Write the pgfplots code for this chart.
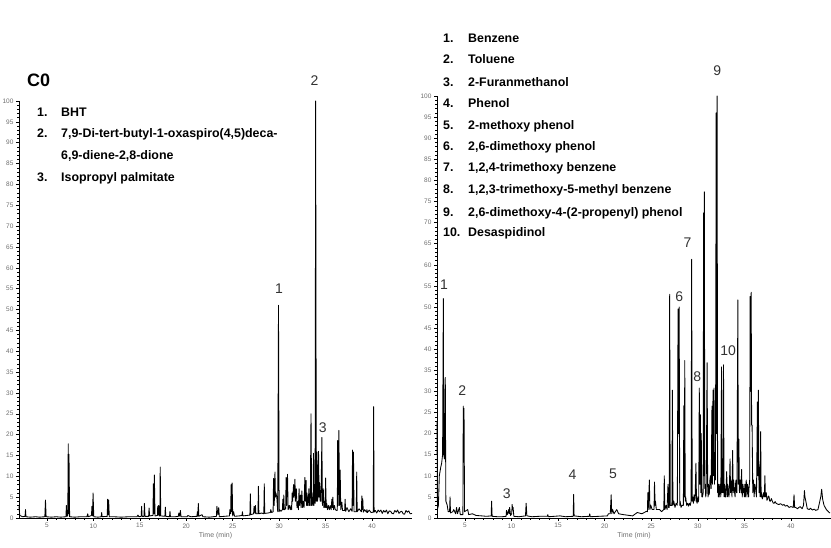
\documentclass[border=0pt]{standalone}
\usepackage{fontspec}
\setmainfont{Liberation Sans}
\usepackage{pgfplots}
\pgfplotsset{compat=1.18}
\definecolor{tickgray}{RGB}{110,110,110}
\definecolor{pklab}{RGB}{50,50,50}
\tikzset{peak/.style={font=\fontsize{14}{14}\selectfont, text=pklab}}
\pgfplotsset{chrom/.style={
  scale only axis, axis lines=left, axis line style={-, black, line width=0.6pt},
  xmin=2, xmax=44.3, ymin=0, ymax=100,
  xtick={5,10,...,40}, ytick={0,5,...,100},
  minor x tick num=4, minor y tick num=4,
  tick align=outside, major tick length=3pt, minor tick length=1.6pt,
  every tick/.style={black, line width=0.4pt},
  /pgf/number format/assume math mode=true,
  ticklabel style={font=\fontsize{6.5}{6.5}\selectfont, text=tickgray},
  xticklabel style={yshift=1pt},
  yticklabel style={xshift=1pt},
  xlabel={Time (min)},
  xlabel style={font=\fontsize{7}{7}\selectfont, text=tickgray, yshift=3pt},
  clip=false, no markers,
}}
\tikzset{chr/.style={black, line width=0.85pt, line join=round, mark=none}}
\begin{document}
\begin{tikzpicture}[x=1pt,y=1pt]
\useasboundingbox (0,0) rectangle (831,548);
% ---------------- left panel (C0)
\begin{axis}[chrom, at={(19pt,30pt)}, anchor=south west, width=393pt, height=417pt]
\addplot[chr] coordinates {(2.0,2.8)(2.08,0.6)(2.2,0.5)(2.4,0.3)(2.65,0.4)(2.7,2.0)(2.75,0.3)(3.2,0.2)(3.8,0.3)(4.2,0.2)(4.78,0.3)(4.85,4.3)(4.92,0.3)(5.5,0.2)(6.0,0.3)(6.5,0.2)(7.05,0.3)(7.1,3.0)(7.15,0.4)(7.25,0.5)(7.3,17.8)(7.35,1.0)(7.38,15.3)(7.45,0.3)(8.0,0.2)(8.6,0.3)(9.3,0.3)(9.4,1.0)(9.45,0.3)(9.8,0.6)(9.85,2.8)(9.92,0.5)(9.97,6.0)(10.05,0.3)(10.5,0.2)(10.85,0.3)(10.9,1.3)(10.95,0.3)(11.5,0.4)(11.54,4.5)(11.6,0.8)(11.65,4.3)(11.72,0.3)(12.2,0.3)(13.0,0.2)(13.8,0.3)(14.7,0.3)(14.8,0.7)(14.9,0.3)(15.15,0.4)(15.2,2.8)(15.25,0.4)(15.45,0.4)(15.5,3.5)(15.56,0.4)(15.95,0.4)(16.0,2.4)(16.06,0.5)(16.42,0.6)(16.46,8.2)(16.52,1.0)(16.57,10.3)(16.64,0.5)(16.9,0.6)(16.93,2.8)(16.98,0.8)(17.03,3.0)(17.08,0.5)(17.16,0.5)(17.2,12.2)(17.26,0.5)(17.7,0.4)(17.75,2.6)(17.8,0.4)(18.2,0.3)(18.25,1.6)(18.3,0.3)(18.8,0.3)(19.15,0.4)(19.2,1.2)(19.3,0.4)(19.37,1.8)(19.44,0.3)(20.1,0.3)(20.16,0.6)(20.5,0.3)(21.15,0.4)(21.2,1.5)(21.25,0.4)(21.3,3.5)(21.36,0.4)(21.7,0.8)(21.8,0.3)(22.5,0.2)(23.25,0.4)(23.3,2.8)(23.4,0.8)(23.5,2.5)(23.56,0.3)(24.1,0.4)(24.65,0.5)(24.7,2.0)(24.78,1.0)(24.83,8.0)(24.88,1.5)(24.94,8.4)(25.0,0.5)(25.1,1.5)(25.2,0.4)(25.7,0.5)(26.0,0.6)(26.05,1.5)(26.1,0.5)(26.5,0.6)(26.85,0.7)(26.9,5.8)(26.95,0.8)(27.25,1.0)(27.3,2.8)(27.4,1.2)(27.45,3.0)(27.5,1.0)(27.72,1.0)(27.77,7.6)(27.82,1.0)(28.1,1.2)(28.35,1.0)(28.4,8.2)(28.45,1.1)(28.8,1.2)(29.05,1.3)(29.1,2.0)(29.2,1.3)(29.35,1.5)(29.4,9.5)(29.47,3)(29.55,11.0)(29.6,5)(29.65,6.0)(29.75,5.0)(29.85,1.5)(29.93,51.0)(30.0,1.5)(30.04,2.0)(30.2,1.6)(30.35,2.0)(30.4,4.5)(30.45,2)(30.5,5.5)(30.55,2.0)(30.7,2.2)(30.75,9.7)(30.8,3)(30.9,10.5)(30.97,2.0)(31.1,3.0)(31.2,2.0)(31.3,3)(31.35,2)(31.4,6.0)(31.45,4)(31.5,6)(31.55,8.0)(31.6,5)(31.65,7)(31.7,9.3)(31.75,4)(31.8,6)(31.85,7.0)(31.92,2.5)(31.96,4)(32.0,3.0)(32.08,2)(32.11,5)(32.15,7.0)(32.2,3)(32.25,5)(32.3,5.5)(32.37,2.5)(32.41,5)(32.45,6.5)(32.52,2.5)(32.56,4)(32.6,4.0)(32.68,2.5)(32.72,6)(32.77,9.7)(32.83,4)(32.9,9.0)(32.95,3)(33.0,6.0)(33.04,3)(33.08,5)(33.13,3)(33.2,7.0)(33.28,3)(33.35,3)(33.43,25.0)(33.5,3)(33.55,5)(33.6,4.0)(33.65,3)(33.7,15.5)(33.75,3)(33.8,8.0)(33.87,3.5)(33.93,100)(34.0,4)(34.07,15.8)(34.12,4)(34.18,5)(34.24,16.0)(34.3,5)(34.35,8.5)(34.42,4)(34.46,6)(34.5,4)(34.6,19.3)(34.66,3)(34.75,7.0)(34.82,2.5)(34.88,4)(34.95,2.5)(35.0,9.6)(35.07,2.5)(35.12,3.5)(35.2,2)(35.3,3.0)(35.4,2)(35.5,3)(35.6,2)(35.67,4.5)(35.72,2.5)(35.78,5.0)(35.85,2)(35.95,3)(36.04,2.0)(36.2,1.8)(36.26,1.8)(36.3,18.6)(36.36,3)(36.43,21.0)(36.5,3)(36.57,11.5)(36.63,2)(36.75,3.8)(36.82,1.8)(37.05,1.8)(37.1,4.5)(37.16,1.6)(37.3,2.5)(37.5,1.5)(37.7,2.2)(37.85,1.6)(37.9,16.3)(37.95,3)(38.0,15.8)(38.06,1.5)(38.3,1.5)(38.35,11.0)(38.4,1.5)(38.6,2.2)(38.85,1.5)(38.9,5.3)(38.95,2)(39.0,4.6)(39.06,1.4)(39.2,2)(39.4,1.4)(39.45,2.0)(39.5,1.3)(39.7,1.9)(39.9,1.3)(40.13,1.4)(40.17,26.7)(40.22,1.4)(40.35,1.8)(40.5,1.2)(40.65,1.9)(40.8,1.5)(40.95,1.9)(41.1,1.1)(41.25,1.8)(41.4,1.4)(41.55,1.9)(41.7,1.0)(41.85,1.7)(42.0,1.6)(42.15,1.1)(42.3,1.0)(42.45,1.8)(42.6,1.4)(42.75,1.9)(42.9,1.1)(43.05,1.5)(43.2,1.6)(43.35,1.0)(43.5,0.9)(43.65,1.8)(43.8,1.4)(43.95,1.7)(44.1,1.0)(44.3,1.1)};
\node[peak] at (axis cs:30.0,55) {1};
\node[peak] at (axis cs:33.8,104.8) {2};
\node[peak] at (axis cs:34.7,21.6) {3};
\end{axis}
% ---------------- right panel
\begin{axis}[chrom, at={(437pt,30pt)}, anchor=south west, width=394pt, height=422pt]
\addplot[chr] coordinates {(2.0,22.8)(2.05,2.0)(2.15,3)(2.25,10)(2.4,12)(2.5,13)(2.6,15)(2.68,52)(2.73,15)(2.8,14)(2.89,33.3)(2.95,4)(3.1,3)(3.2,1.5)(3.35,1.5)(3.4,5)(3.45,1.2)(3.7,1.5)(3.8,2)(4.0,1)(4.1,2.5)(4.2,1)(4.4,2.5)(4.5,0.8)(4.78,0.8)(4.82,26.5)(4.87,15)(4.9,26)(4.96,1.5)(5.3,2)(5.4,0.8)(5.8,1)(6.2,0.6)(6.8,0.5)(7.3,0.4)(7.82,0.5)(7.86,4)(7.92,0.4)(8.5,0.3)(9.0,0.3)(9.42,0.4)(9.46,1.8)(9.55,0.8)(9.7,2)(9.75,1)(9.8,2.5)(9.9,0.6)(10.02,1)(10.07,3.2)(10.12,2)(10.17,2.5)(10.25,0.4)(10.8,0.3)(11.5,0.5)(11.57,3.5)(11.65,0.5)(12.2,0.3)(13.0,0.4)(13.85,0.4)(13.9,0.8)(13.95,0.3)(14.6,0.4)(15.2,0.5)(15.8,0.3)(16.62,0.4)(16.67,5.6)(16.72,0.5)(17.5,0.3)(18.35,0.4)(18.4,1)(18.45,0.3)(19.4,0.4)(20.3,0.5)(20.4,1)(20.6,1)(20.7,5.5)(20.76,1)(20.85,2)(21.0,1)(21.3,2)(21.5,1)(22.0,0.8)(23.0,0.5)(23.5,1.3)(24.0,1)(24.5,1.6)(24.6,1.5)(24.63,6)(24.68,2)(24.8,9)(24.86,2)(24.95,3)(25.1,2)(25.3,2)(25.35,8.5)(25.42,3)(25.45,4)(25.55,2)(25.9,2)(26.1,1.5)(26.35,2)(26.4,10)(26.46,2)(26.6,3)(26.7,2)(26.8,8)(26.86,2.5)(26.93,2.5)(26.98,53)(27.04,3)(27.13,3)(27.22,3)(27.27,30.3)(27.33,3)(27.42,4)(27.55,2.5)(27.67,3.5)(27.8,3)(27.88,49.5)(27.93,20)(28.0,50)(28.06,3)(28.1,4)(28.2,2.5)(28.3,3)(28.45,3)(28.5,26.6)(28.55,5)(28.6,37.3)(28.65,4)(28.7,5)(28.8,3)(28.9,3.5)(29.0,2.8)(29.1,3.5)(29.2,3)(29.28,4)(29.34,61.3)(29.4,4)(29.45,5)(29.52,3.5)(29.6,5.5)(29.7,4)(29.8,13)(29.86,4)(29.93,3.5)(30.0,5)(30.05,3.8)(30.1,4.5)(30.16,30.8)(30.22,8)(30.27,24.5)(30.32,6)(30.37,20)(30.44,5)(30.5,5)(30.58,6)(30.62,72.3)(30.66,10)(30.7,77.3)(30.75,7)(30.8,8)(30.85,5)(30.9,6)(31.0,36.8)(31.06,7)(31.1,5)(31.15,8)(31.2,5.5)(31.25,6)(31.3,9)(31.35,10)(31.43,7)(31.52,26.5)(31.57,8)(31.63,30.3)(31.68,10)(31.74,30.8)(31.79,8)(31.84,15)(31.9,9)(31.97,96)(32.02,20)(32.07,100)(32.13,6)(32.17,8)(32.2,5)(32.25,8)(32.3,5)(32.35,7)(32.4,8)(32.47,5)(32.55,35.8)(32.6,6)(32.66,10)(32.71,6)(32.76,36.3)(32.82,5)(32.86,8)(32.9,7)(32.95,5)(33.0,5)(33.05,8)(33.1,11)(33.17,5)(33.21,8)(33.25,7)(33.3,5.5)(33.35,5)(33.4,8)(33.46,14)(33.52,6)(33.56,9)(33.6,8)(33.67,5)(33.74,16)(33.8,6)(33.85,9)(33.9,7)(33.95,6)(34.0,5)(34.05,8)(34.1,9)(34.15,6)(34.2,6)(34.3,51.7)(34.35,8)(34.41,18.7)(34.47,6)(34.52,9)(34.58,9)(34.64,6)(34.7,11.5)(34.77,5)(34.85,8)(34.9,6)(34.95,7)(35.0,5)(35.05,8)(35.1,5)(35.2,9)(35.28,5)(35.33,8)(35.4,7)(35.45,5)(35.5,7)(35.57,9)(35.62,52.5)(35.67,30)(35.73,53.5)(35.78,22)(35.83,22)(35.9,6)(35.97,9)(36.05,5)(36.12,8)(36.2,7)(36.3,5)(36.4,27.5)(36.45,10)(36.5,30.3)(36.57,6)(36.64,12)(36.69,5)(36.75,20.5)(36.8,5)(36.85,6)(36.92,4.5)(37.0,5)(37.07,6)(37.15,5)(37.2,10)(37.26,5)(37.35,6)(37.42,4.2)(37.5,4.5)(37.58,5.2)(37.65,5)(37.72,4)(37.8,4)(37.9,4.6)(38.0,4)(38.1,3.5)(38.2,3.5)(38.3,3.9)(38.4,3.5)(38.55,3.3)(38.7,3.2)(38.9,3.4)(39.1,3)(39.25,3.2)(39.4,2.8)(39.6,3)(39.8,2.5)(40.0,2.7)(40.25,2.5)(40.33,5.5)(40.4,2.5)(40.5,2.5)(40.7,2.2)(40.85,2.5)(41.0,2.7)(41.2,2.2)(41.35,3)(41.45,6.5)(41.5,5)(41.6,4)(41.75,2.2)(41.95,2)(42.1,2.3)(42.3,1.9)(42.5,2.1)(42.66,1.8)(42.9,2)(43.0,3)(43.2,5)(43.3,6.8)(43.4,4.5)(43.55,3)(43.8,2)(44.1,1.3)(44.2,1.2)};
\node[peak] at (axis cs:2.75,55.2) {1};
\node[peak] at (axis cs:4.7,30.3) {2};
\node[peak] at (axis cs:9.49,5.7) {3};
\node[peak] at (axis cs:16.56,10.2) {4};
\node[peak] at (axis cs:20.9,10.4) {5};
\node[peak] at (axis cs:28.0,52.4) {6};
\node[peak] at (axis cs:28.9,65.2) {7};
\node[peak] at (axis cs:29.95,33.6) {8};
\node[peak] at (axis cs:32.09,106) {9};
\node[peak] at (axis cs:33.26,39.6) {10};
\end{axis}
% ---------------- texts
\node[anchor=base west, inner sep=0, font=\fontsize{18}{18}\selectfont\bfseries] at (27,461) {C0};
\begin{scope}[every node/.style={anchor=base west, inner sep=0, font=\fontsize{12.4}{12.4}\selectfont\bfseries}]
\node at (37,431) {1.}; \node at (61,431) {BHT};
\node at (37,410) {2.}; \node at (61,410) {7,9-Di-tert-butyl-1-oxaspiro(4,5)deca-};
\node at (61,388) {6,9-diene-2,8-dione};
\node at (37,366) {3.}; \node at (61,366) {Isopropyl palmitate};
\node at (443,505) {1.}; \node at (468,505) {Benzene};
\node at (443,484) {2.}; \node at (468,484) {Toluene};
\node at (443,461) {3.}; \node at (468,461) {2-Furanmethanol};
\node at (443,440) {4.}; \node at (468,440) {Phenol};
\node at (443,418) {5.}; \node at (468,418) {2-methoxy phenol};
\node at (443,397) {6.}; \node at (468,397) {2,6-dimethoxy phenol};
\node at (443,376) {7.}; \node at (468,376) {1,2,4-trimethoxy benzene};
\node at (443,354) {8.}; \node at (468,354) {1,2,3-trimethoxy-5-methyl benzene};
\node at (443,331) {9.}; \node at (468,331) {2,6-dimethoxy-4-(2-propenyl) phenol};
\node at (443,311) {10.}; \node at (468,311) {Desaspidinol};
\end{scope}
\end{tikzpicture}
\end{document}
